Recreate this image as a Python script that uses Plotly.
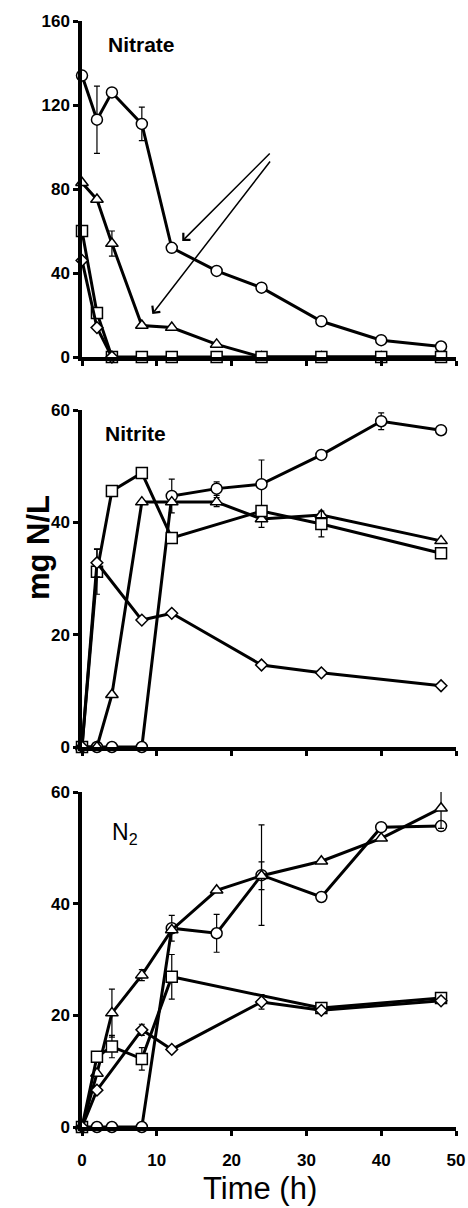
import plotly.graph_objects as go

# ---------------- data ----------------
time_all = [0, 2, 4, 8, 12, 18, 24, 32, 40, 48]

# Nitrate
no3_circle_t = [0, 2, 4, 8, 12, 18, 24, 32, 40, 48]
no3_circle_v = [134, 113, 126, 111, 52, 41, 33, 17, 8, 5]
no3_circle_e = [0, 16, 0, 8, 0, 0, 0, 0, 0, 0]
no3_tri_t = [0, 2, 4, 8, 12, 18, 24, 32, 40, 48]
no3_tri_v = [83, 75, 54, 15, 14, 6, 0, 0, 0, 0]
no3_tri_e = [0, 0, 6, 0, 0, 0, 0, 0, 0, 0]
no3_sq_t = [0, 2, 4, 8, 12, 18, 24, 32, 40, 48]
no3_sq_v = [60, 21, 0, 0, 0, 0, 0, 0, 0, 0]
no3_sq_e = [0] * 10
no3_dia_t = [0, 2, 4]
no3_dia_v = [46, 14, 0]
no3_dia_e = [0, 0, 0]

# Nitrite
no2_circle_t = [0, 2, 4, 8, 12, 18, 24, 32, 40, 48]
no2_circle_v = [0, 0, 0, 0, 44.7, 46, 46.8, 52, 58, 56.4]
no2_circle_e = [0, 0, 0, 0, 3, 1.2, 4.3, 0, 1.5, 0]
no2_tri_t = [0, 2, 4, 8, 12, 18, 24, 32, 48]
no2_tri_v = [0, 0, 9.3, 43.6, 43.6, 43.6, 40.6, 41.3, 36.7]
no2_tri_e = [0, 0, 0, 0, 0, 0.8, 1.5, 0, 0]
no2_sq_t = [0, 2, 4, 8, 12, 24, 32, 48]
no2_sq_v = [0, 31.2, 45.6, 48.8, 37.2, 42, 39.7, 34.5]
no2_sq_e = [0, 4, 0, 0, 0, 0, 2.3, 0]
no2_dia_t = [0, 2, 8, 12, 24, 32, 48]
no2_dia_v = [0, 32.8, 22.6, 23.8, 14.6, 13.2, 10.9]
no2_dia_e = [0, 2.5, 0, 0, 0, 0, 0]

# N2
n2_circle_t = [0, 2, 4, 8, 12, 18, 24, 32, 40, 48]
n2_circle_v = [0, 0, 0, 0, 35.6, 34.7, 45.1, 41.2, 53.7, 53.9]
n2_circle_e = [0, 0, 0, 0, 2.3, 3.4, 9, 0, 0, 0]
n2_tri_t = [0, 2, 4, 8, 12, 18, 24, 32, 40, 48]
n2_tri_v = [0, 9.6, 20.4, 27.2, 35.3, 42.4, 45, 47.6, 51.7, 57.1]
n2_tri_e = [0, 0, 4.3, 1, 0, 0, 2.5, 0, 0, 3.6]
n2_sq_t = [0, 2, 4, 8, 12, 32, 48]
n2_sq_v = [0, 12.6, 14.4, 12.2, 26.9, 21.3, 23.1]
n2_sq_e = [0, 0, 2, 2, 4, 0, 0]
n2_dia_t = [0, 2, 8, 12, 24, 32, 48]
n2_dia_v = [0, 6.6, 17.4, 13.9, 22.4, 20.9, 22.6]
n2_dia_e = [0, 0, 1, 0, 1.3, 0, 0]

x_ticks = [0, 10, 20, 30, 40, 50]
y_ticks_no3 = [0, 40, 80, 120, 160]
y_ticks_60 = [0, 20, 40, 60]

# ---------------- figure ----------------
FONT = "Liberation Sans"
fig = go.Figure()

panels = [
    ("x", "y", [(no3_circle_t, no3_circle_v, no3_circle_e, "circle"),
                (no3_tri_t, no3_tri_v, no3_tri_e, "triangle-up"),
                (no3_sq_t, no3_sq_v, no3_sq_e, "square"),
                (no3_dia_t, no3_dia_v, no3_dia_e, "diamond")]),
    ("x2", "y2", [(no2_circle_t, no2_circle_v, no2_circle_e, "circle"),
                  (no2_tri_t, no2_tri_v, no2_tri_e, "triangle-up"),
                  (no2_sq_t, no2_sq_v, no2_sq_e, "square"),
                  (no2_dia_t, no2_dia_v, no2_dia_e, "diamond")]),
    ("x3", "y3", [(n2_circle_t, n2_circle_v, n2_circle_e, "circle"),
                  (n2_tri_t, n2_tri_v, n2_tri_e, "triangle-up"),
                  (n2_sq_t, n2_sq_v, n2_sq_e, "square"),
                  (n2_dia_t, n2_dia_v, n2_dia_e, "diamond")]),
]
sizes = {"circle": 11, "triangle-up": 11, "square": 11, "diamond": 9}
for xa, ya, series in panels:
    for t, v, e, sym in series:
        fig.add_trace(go.Scatter(
            x=t, y=v, xaxis=xa, yaxis=ya, mode="lines+markers",
            line=dict(color="black", width=3),
            marker=dict(symbol=sym, size=sizes[sym], color="white",
                        line=dict(color="black", width=1.5)),
            error_y=dict(type="data", array=e, visible=True, color="black",
                         thickness=1.2, width=3),
            cliponaxis=False, showlegend=False,
        ))

H_TOP = 21
H_BOT = 81
plot_h = 1208 - H_TOP - H_BOT


def dom(top_px, bot_px):
    return [(1127 - bot_px) / plot_h, (1127 - top_px) / plot_h]


axis_common = dict(showline=True, linewidth=3.5, linecolor="black",
                   ticks="outside", ticklen=5, tickwidth=3, tickcolor="black",
                   showgrid=False, zeroline=False, automargin=False)
tickfont = dict(family=FONT, size=17, color="black", weight="bold")

layout = dict(
    width=468, height=1208,
    margin=dict(l=82, r=12, t=H_TOP, b=H_BOT, autoexpand=False),
    plot_bgcolor="white", paper_bgcolor="white",
    showlegend=False,
)
for i, (yd, yt, yr) in enumerate([(dom(21, 357), y_ticks_no3, [0, 160]),
                                  (dom(410, 747), y_ticks_60, [0, 60]),
                                  (dom(792, 1127), y_ticks_60, [0, 60])]):
    s = "" if i == 0 else str(i + 1)
    layout["xaxis" + s] = dict(axis_common, range=[0, 50], tickvals=x_ticks,
                               anchor="y" + s, domain=[0, 1],
                               showticklabels=(i == 2), tickfont=tickfont,
                               ticklabelstandoff=10)
    layout["yaxis" + s] = dict(axis_common, range=yr, tickvals=yt,
                               anchor="x" + s, domain=yd, tickfont=tickfont,
                               ticklabelstandoff=0)
fig.update_layout(**layout)

# panel labels
lab_font = dict(family=FONT, size=21, color="black", weight="bold")
fig.add_annotation(x=3.2, y=148.6, xref="x", yref="y", text="Nitrate",
                   showarrow=False, xanchor="left", yanchor="middle", font=lab_font)
fig.add_annotation(x=2.8, y=55.9, xref="x2", yref="y2", text="Nitrite",
                   showarrow=False, xanchor="left", yanchor="middle", font=lab_font)
fig.add_annotation(x=3.7, y=52.5, xref="x3", yref="y3", text="N<sub>2</sub>",
                   showarrow=False, xanchor="left", yanchor="middle",
                   font=dict(family=FONT, size=23, color="black"))

# arrows in nitrate panel
fig.add_annotation(x=13.4, y=55.2, ax=25.3, ay=97.6, xref="x", yref="y",
                   axref="x", ayref="y", text="", showarrow=True,
                   arrowhead=4, arrowsize=1.3, arrowwidth=1.5, arrowcolor="black")
fig.add_annotation(x=9.4, y=20.5, ax=25.3, ay=93.8, xref="x", yref="y",
                   axref="x", ayref="y", text="", showarrow=True,
                   arrowhead=4, arrowsize=1.3, arrowwidth=1.5, arrowcolor="black")

# axis titles
fig.add_annotation(x=(38 - 82) / 374, y=(1127 - 548) / plot_h, xref="paper",
                   yref="paper", text="mg N/L", textangle=-90, showarrow=False,
                   xanchor="center", yanchor="middle",
                   font=dict(family=FONT, size=31, color="black", weight="bold"))
fig.add_annotation(x=(260 - 82) / 374, y=(1127 - 1188) / plot_h, xref="paper",
                   yref="paper", text="Time (h)", showarrow=False,
                   xanchor="center", yanchor="middle",
                   font=dict(family=FONT, size=31, color="black"))

fig.write_html("out.html")
